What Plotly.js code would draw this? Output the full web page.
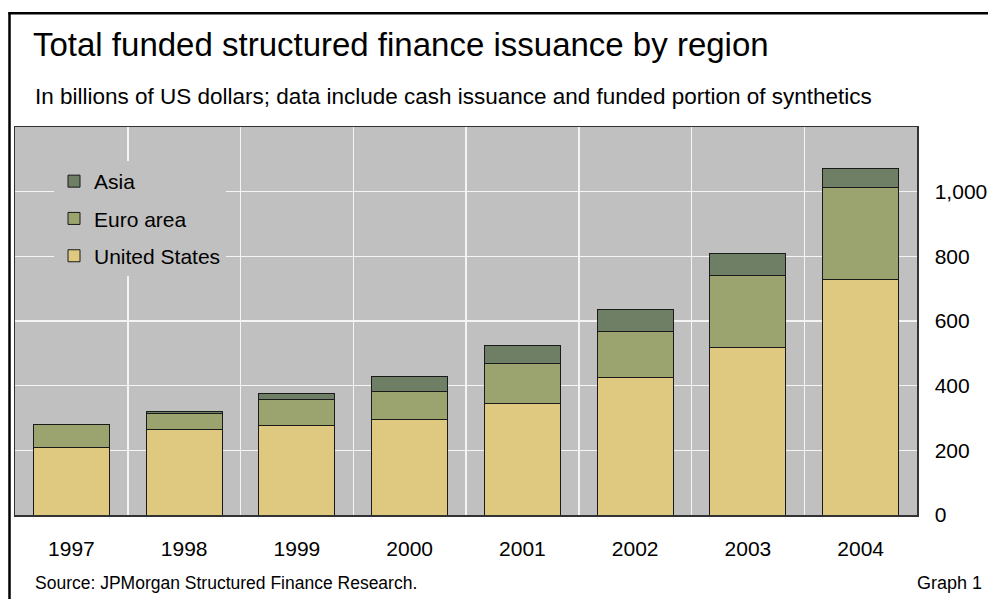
<!DOCTYPE html>
<html>
<head>
<meta charset="utf-8">
<script src="https://cdn.plot.ly/plotly-3.0.1.min.js"></script>
<style>html,body{margin:0;padding:0;background:#fff;}#chart{width:988px;height:599px;}</style>
</head>
<body>
<div id="chart"></div>
<script>
const years = ['1997','1998','1999','2000','2001','2002','2003','2004'];
const unitedStates = [209, 265, 277, 296, 345, 426, 518, 727];
const euroArea = [70, 49, 81, 86, 124, 142, 223, 285];
const asia = [0, 7, 18, 45, 56, 68, 67, 61];
const yTickVals = [0, 200, 400, 600, 800, 1000];
const yTickText = ['0', '200', '400', '600', '800', '1,000'];

const W = 988, H = 599;
const L = 15, R = 917, T = 127, B = 515;
const px = x => (x - L) / (R - L);
const py = y => (B - y) / (B - T);

const lineStyle = {color: '#1a1a1a', width: 1};
const traces = [
  {name: 'United States', y: unitedStates, color: '#dfc981', rank: 3},
  {name: 'Euro area', y: euroArea, color: '#9ba46e', rank: 2},
  {name: 'Asia', y: asia, color: '#6e7f66', rank: 1}
].map(s => ({
  type: 'bar', x: years, y: s.y, name: s.name, legendgroup: s.name,
  legendrank: s.rank,
  marker: {color: s.color, line: lineStyle},
  hoverinfo: 'x+y+name'
}));

const font = 'Liberation Sans, Arial, sans-serif';
const layout = {
  width: W, height: H,
  margin: {l: L, r: W - R, t: T, b: H - B, pad: 0},
  paper_bgcolor: '#ffffff',
  plot_bgcolor: '#c0c0c0',
  barmode: 'stack',
  bargap: 0.326,
  font: {family: font, color: '#000', size: 21},
  title: {text: 'Total funded structured finance issuance by region',
    x: 33 / W, xanchor: 'left', xref: 'container',
    y: 1 - 44 / H, yanchor: 'middle', yref: 'container',
    font: {family: font, size: 33, color: '#000'}},
  xaxis: {
    type: 'category', tickson: 'boundaries', showgrid: true,
    gridcolor: '#f4f4f4', gridwidth: 1.5, ticks: '',
    showline: true, linecolor: '#333', linewidth: 1.5, mirror: true,
    ticklabelstandoff: 14, tickfont: {size: 21}, zeroline: false
  },
  yaxis: {
    side: 'right', range: [0, 1200], tickvals: yTickVals, ticktext: yTickText,
    showgrid: true, gridcolor: '#f4f4f4', gridwidth: 1.5, ticks: '',
    showline: true, linecolor: '#333', linewidth: 1.5, mirror: true,
    ticklabelstandoff: 12, tickfont: {size: 21}, zeroline: false
  },
  legend: {
    x: px(54), y: py(161), xanchor: 'left', yanchor: 'top',
    bgcolor: '#c0c0c0', borderwidth: 0,
    traceorder: 'grouped', tracegroupgap: 7,
    font: {size: 21, family: font}
  },
  annotations: [
    {text: 'In billions of US dollars; data include cash issuance and funded portion of synthetics',
      xref: 'paper', yref: 'paper', x: px(33), y: py(96), xanchor: 'left', yanchor: 'middle',
      showarrow: false, font: {size: 22.5}},
    {text: 'Source: JPMorgan Structured Finance Research.',
      xref: 'paper', yref: 'paper', x: px(33), y: py(583), xanchor: 'left', yanchor: 'middle',
      showarrow: false, font: {size: 17.5}},
    {text: 'Graph 1',
      xref: 'paper', yref: 'paper', x: px(984), y: py(583), xanchor: 'right', yanchor: 'middle',
      showarrow: false, font: {size: 18}}
  ],
  shapes: [
    {type: 'line', xref: 'paper', yref: 'paper', x0: px(9.5), x1: px(9.5), y0: py(12.5), y1: py(600),
      line: {color: '#000', width: 2.5}},
    {type: 'line', xref: 'paper', yref: 'paper', x0: px(8.3), x1: px(990), y0: py(13.3), y1: py(13.3),
      line: {color: '#000', width: 2.5}}
  ]
};

Plotly.newPlot('chart', traces, layout, {displayModeBar: false, staticPlot: true});
</script>
</body>
</html>
